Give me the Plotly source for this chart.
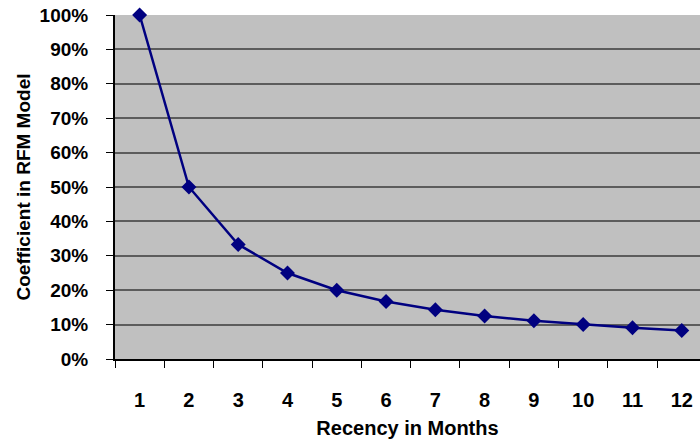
import plotly.graph_objects as go

months = [1, 2, 3, 4, 5, 6, 7, 8, 9, 10, 11, 12]
coefficient = [1.00, 0.50, 0.333, 0.25, 0.20, 0.167, 0.143, 0.125, 0.111, 0.10, 0.091, 0.083]
y_ticks = [0, 0.1, 0.2, 0.3, 0.4, 0.5, 0.6, 0.7, 0.8, 0.9, 1.0]
y_labels = ["0%", "10%", "20%", "30%", "40%", "50%", "60%", "70%", "80%", "90%", "100%"]

FONT = "Liberation Sans, Arial, sans-serif"

fig = go.Figure(go.Scatter(
    x=months, y=coefficient, mode="lines+markers",
    line=dict(color="#000080", width=2.5),
    marker=dict(symbol="diamond", size=11.5, color="#000080"),
    cliponaxis=False,
))

fig.update_layout(
    width=700, height=440,
    margin=dict(l=115, r=0, t=15, b=81),
    paper_bgcolor="white", plot_bgcolor="#C0C0C0",
    showlegend=False,
    font=dict(family=FONT, size=18, color="black"),
)
fig.update_xaxes(
    range=[0.5, 12.37], tickvals=months, ticktext=[str(m) for m in months],
    ticks="outside", ticklen=22, tickcolor="rgba(0,0,0,0)",
    showgrid=False, zeroline=False,
    showline=True, linecolor="black", linewidth=2,
    tickfont=dict(family=FONT, size=20, color="black", weight="bold"),
    minor=dict(tickvals=[m - 0.5 for m in months] + [12.5], ticks="outside",
               ticklen=7, tickcolor="black", tickwidth=1, showgrid=False),
    title=dict(text="<b>Recency in Months</b>", font=dict(family=FONT, size=20), standoff=11),
)
fig.update_yaxes(
    range=[0, 1], tickvals=y_ticks, ticktext=y_labels,
    ticks="outside", ticklen=21, tickcolor="rgba(0,0,0,0)",
    showgrid=True, gridcolor="#5c5c5c", gridwidth=1.5, zeroline=False,
    showline=True, linecolor="black", linewidth=2,
    tickfont=dict(family=FONT, size=19, color="black", weight="bold"),
    minor=dict(tickvals=y_ticks, ticks="outside", ticklen=7, tickcolor="black",
               tickwidth=1, showgrid=False),
    title=dict(text="<b>Coefficient in RFM Model</b>", font=dict(family=FONT, size=19), standoff=4),
)

fig.write_html("out.html")
